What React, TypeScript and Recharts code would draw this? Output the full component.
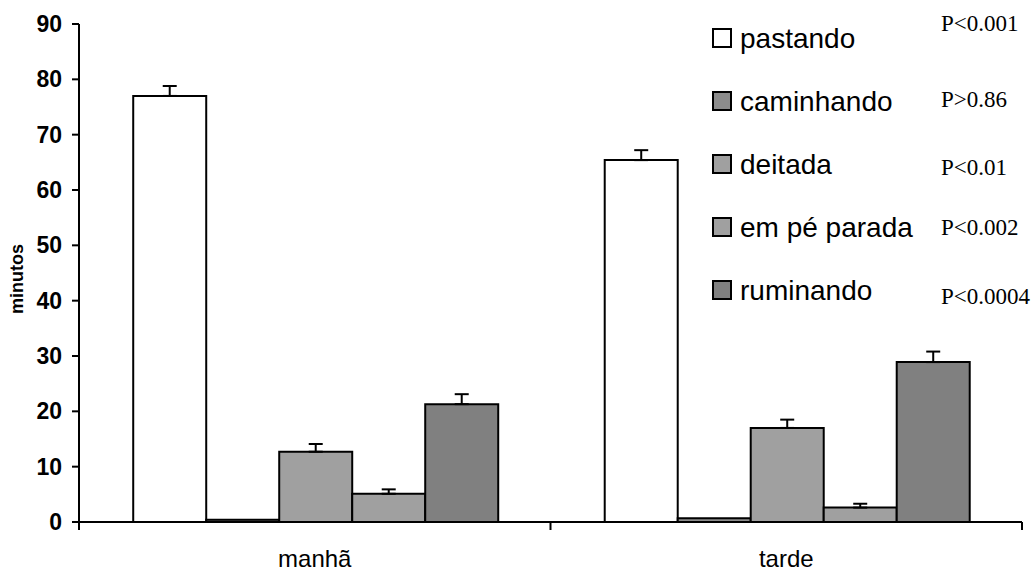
import { Bar, BarChart, ErrorBar, Legend, XAxis, YAxis } from "recharts"

const periods = ["manhã", "tarde"]

const pastando = [77.0, 65.4]
const pastandoErr = [1.8, 1.8]
const caminhando = [0.4, 0.7]
const caminhandoErr = [0, 0]
const deitada = [12.7, 17.0]
const deitadaErr = [1.4, 1.5]
const emPe = [5.1, 2.6]
const emPeErr = [0.8, 0.7]
const ruminando = [21.3, 28.9]
const ruminandoErr = [1.8, 1.9]

const pValues = ["P<0.001", "P>0.86", "P<0.01", "P<0.002", "P<0.0004"]
const yTicks = [0, 10, 20, 30, 40, 50, 60, 70, 80, 90]

const series = [
  { key: "pastando", name: "pastando", fill: "#ffffff", values: pastando, err: pastandoErr },
  { key: "caminhando", name: "caminhando", fill: "#8c8c8c", values: caminhando, err: caminhandoErr },
  { key: "deitada", name: "deitada", fill: "#a0a0a0", values: deitada, err: deitadaErr },
  { key: "emPe", name: "em pé parada", fill: "#a0a0a0", values: emPe, err: emPeErr },
  { key: "ruminando", name: "ruminando", fill: "#808080", values: ruminando, err: ruminandoErr },
]

const data = periods.map((period, i) => {
  const row: Record<string, any> = { period }
  series.forEach((s) => {
    row[s.key] = s.values[i]
    // only the upper whisker is shown
    row[s.key + "Err"] = [0, s.err[i]]
  })
  return row
})

const SANS = "'Liberation Sans', Arial, sans-serif"
const SERIF = "'Liberation Serif', 'Times New Roman', serif"

const X_TICK_SIZE = 8
const X_TICK_MARGIN = 14

// category ticks sit on the band edges, not the centres
const XTick = (props: any) => {
  const { x, y, payload, index } = props
  const half = payload?.offset ?? 0
  const y1 = y - X_TICK_MARGIN - X_TICK_SIZE
  const y2 = y - X_TICK_MARGIN
  return (
    <g>
      {index === 0 && (
        <line x1={x - half} x2={x - half} y1={y1} y2={y2} stroke="#000" strokeWidth={2} />
      )}
      <line x1={x + half} x2={x + half} y1={y1} y2={y2} stroke="#000" strokeWidth={2} />
      <text x={x} y={y} dy={23} textAnchor="middle" fontFamily={SANS} fontSize={24} fill="#000">
        {payload.value}
      </text>
    </g>
  )
}

const YLabel = (props: any) => {
  const { viewBox } = props
  const cx = viewBox.x + 17
  const cy = viewBox.y + viewBox.height / 2 + 6
  return (
    <text
      x={cx}
      y={cy}
      transform={`rotate(-90 ${cx} ${cy})`}
      textAnchor="middle"
      dominantBaseline="central"
      fontFamily={SANS}
      fontWeight="bold"
      fontSize={18}
      fill="#000"
    >
      minutos
    </text>
  )
}

const ROW_TOP = 38
const ROW_STEP = 63
const pBaselines = [31, 107, 175, 235, 304]

const LegendBox = () => (
  <svg width={331} height={320} style={{ display: "block" }}>
    {series.map((s, i) => {
      const cy = ROW_TOP + i * ROW_STEP
      return (
        <g key={s.key}>
          <rect x={13} y={cy - 9} width={18} height={18} fill={s.fill} stroke="#000" strokeWidth={2} />
          <text x={40} y={cy + 10} fontFamily={SANS} fontSize={28} fill="#000">
            {s.name}
          </text>
          <text x={241} y={pBaselines[i]} fontFamily={SERIF} fontSize={23} fill="#000">
            {pValues[i]}
          </text>
        </g>
      )
    })}
  </svg>
)

export default function App() {
  return (
    <div style={{ position: "absolute", left: 0, top: 0, background: "#fff" }}>
      <BarChart
        width={1031}
        height={573}
        data={data}
        margin={{ top: 24, right: 9, bottom: 0, left: 0 }}
        barCategoryGap="11.5%"
        barGap={0}
      >
        <XAxis
          dataKey="period"
          height={51}
          axisLine={{ stroke: "#000", strokeWidth: 2 }}
          tickLine={false}
          tickSize={X_TICK_SIZE}
          tickMargin={X_TICK_MARGIN}
          tick={<XTick />}
          interval={0}
        />
        <YAxis
          width={79}
          domain={[0, 90]}
          ticks={yTicks}
          interval={0}
          axisLine={{ stroke: "#000", strokeWidth: 2 }}
          tickLine={{ stroke: "#000", strokeWidth: 2 }}
          tickSize={7}
          tickMargin={10}
          tick={{ fill: "#000", fontFamily: SANS, fontWeight: "bold", fontSize: 23 }}
          label={<YLabel />}
        />
        <Legend
          layout="vertical"
          align="center"
          verticalAlign="middle"
          wrapperStyle={{ position: "absolute", left: 700, top: 0, width: 331, height: 320 }}
          content={<LegendBox />}
        />
        {series.map((s) => (
          <Bar
            key={s.key}
            dataKey={s.key}
            name={s.name}
            fill={s.fill}
            stroke="#000"
            strokeWidth={2}
            isAnimationActive={false}
          >
            {s.err.some((e) => e > 0) && (
              <ErrorBar
                dataKey={s.key + "Err"}
                direction="y"
                width={7}
                stroke="#000"
                strokeWidth={2}
                isAnimationActive={false}
              />
            )}
          </Bar>
        ))}
      </BarChart>
    </div>
  )
}
